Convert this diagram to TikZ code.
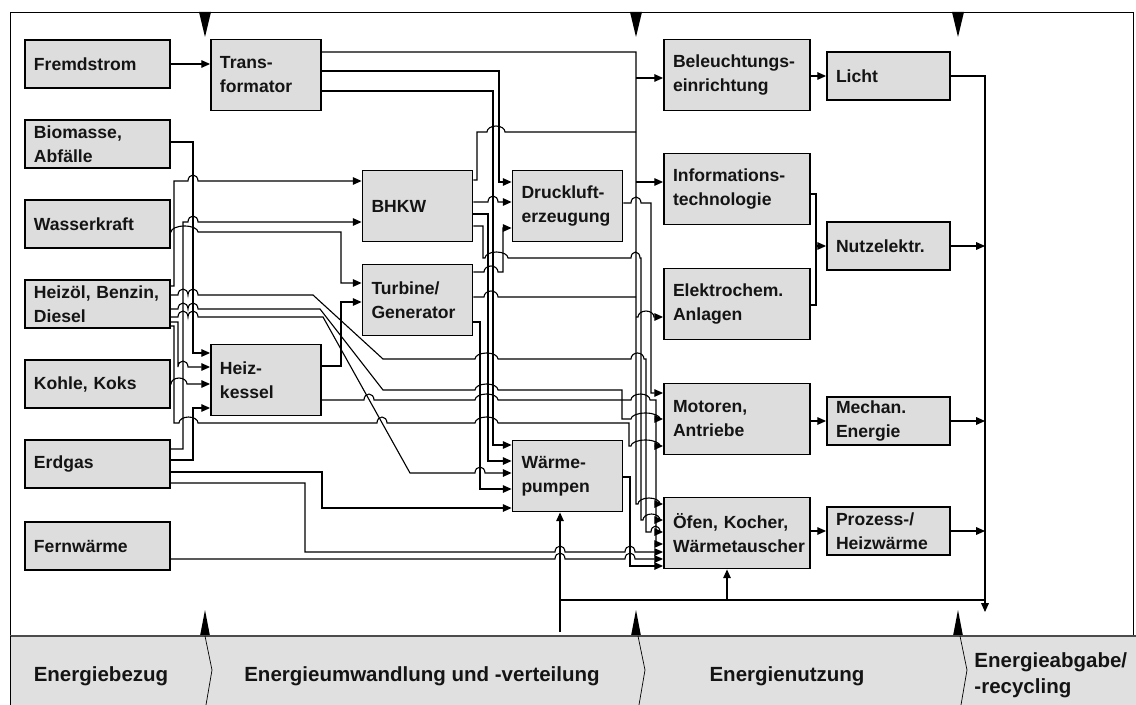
\documentclass[tikz,border=0pt]{standalone}
\usepackage{fontspec}
\setmainfont{Liberation Sans}
\usetikzlibrary{arrows.meta}
\definecolor{boxgray}{RGB}{221,221,221}
\definecolor{bandgray}{RGB}{224,224,224}

\begin{document}
\begin{tikzpicture}[x=0.03cm,y=-0.03cm,line width=0.95pt,
    >={Triangle[length=7.5pt,width=6.5pt]},
    hop/.style={insert path={arc[start angle=180,end angle=0,x radius=#1*0.03cm,y radius=0.18cm]}},
    hop/.default=5]
\useasboundingbox (0,0) rectangle (1136,705);
\fill[white] (0,0) rectangle (1136,705);
\draw[line width=0.6pt] (10,12) rectangle (1133,636);

\begin{scope}[every node/.style={draw,line width=1.6pt,fill=boxgray,align=left,
        inner xsep=0.27cm,inner ysep=0pt,text=black!92,
        font=\bfseries\fontsize{15}{20.5}\selectfont},
    srcbox/.style={minimum width=4.35cm,text width=3.81cm,minimum height=1.44cm},
    convbox/.style={minimum width=3.3cm,text width=2.76cm,minimum height=2.13cm},
    usebox/.style={minimum width=4.38cm,text width=3.84cm,minimum height=2.13cm},
    endbox/.style={minimum width=3.69cm,text width=3.15cm,minimum height=1.44cm}]
    \node[srcbox] (fremd) at (97.5,64) {Fremdstrom};
    \node[srcbox] (bio) at (97.5,144) {Biomasse,\\Abfälle};
    \node[srcbox] (wasser) at (97.5,224) {Wasserkraft};
    \node[srcbox] (heizoel) at (97.5,304) {Heizöl, Benzin,\\Diesel};
    \node[srcbox] (kohle) at (97.5,384) {Kohle, Koks};
    \node[srcbox] (erdgas) at (97.5,464) {Erdgas};
    \node[srcbox] (fernw) at (97.5,546) {Fernwärme};
    \node[convbox] (trafo) at (266,75) {Trans-\\formator};
    \node[convbox] (kessel) at (266,380) {Heiz-\\kessel};
    \node[convbox] (bhkw) at (417.5,206) {BHKW};
    \node[convbox] (turbine) at (417.5,300) {Turbine/\\Generator};
    \node[convbox] (druck) at (567.5,206) {Druckluft-\\erzeugung};
    \node[convbox] (wpumpe) at (567.5,476) {Wärme-\\pumpen};
    \node[usebox] (beleucht) at (737,75) {Beleuchtungs-\\einrichtung};
    \node[usebox] (infot) at (737,189) {Informations-\\technologie};
    \node[usebox] (echem) at (737,304) {Elektrochem.\\Anlagen};
    \node[usebox] (motor) at (737,419) {Motoren,\\Antriebe};
    \node[usebox] (oefen) at (737,533) {Öfen, Kocher,\\Wärmetauscher};
    \node[endbox] (licht) at (888.5,76) {Licht};
    \node[endbox] (nutz) at (888.5,246) {Nutzelektr.};
    \node[endbox] (mech) at (888.5,421) {Mechan.\\Energie};
    \node[endbox] (proz) at (888.5,531) {Prozess-/\\Heizwärme};
\end{scope}

\coordinate (coll) at (985,612);
\coordinate (nj) at (816,246);
\coordinate (ret) at (560,632);
\coordinate (ofin) at (727,600);

% Energiebezug
\draw[->] (fremd) -- (trafo.west |- fremd);
\draw[->] (heizoel.east |- 0,286) -| (174,181) -- (188,181) [hop] -- (bhkw.west |- 0,181);
\draw[->] (erdgas.east |- 0,449) -| (183,222) -- (188,222) [hop] -- (bhkw.west |- 0,222);
\draw[->] (bio.east |- 0,142) -| (193,353) -- (kessel.west |- 0,353);
\draw[->] (wasser.east |- 0,232) -- (171,232) [hop=13.5] -- (341,232) |- (turbine.west |- 0,283);
\draw (heizoel.east |- 0,295) -- (178,295) [hop] [hop] -- (313,295) -- (383,359)
    -- (475,359) [hop=11.5] -- (631,359) [hop=6.5] -- (646,359) -- (646,532)
    -- (651,532) [hop=4.5];
\draw[->] (660,532) -- (oefen.west |- 0,532);
\draw[->] (heizoel.east |- 0,309) -- (178,309) [hop] [hop] -- (320,309) -- (383,390)
    -- (475,390) [hop=11.5] -- (622,390) -- (622,419) -- (631,419) [hop=14.5]
    -- (motor.west |- 0,419);
\draw[->] (heizoel.east |- 0,317) -- (178,317) [hop] [hop] -- (323,317) -- (410,473)
    -- (475,473) [hop] -- (wpumpe.west |- 0,473);
\draw[->] (heizoel.east |- 0,322) -| (178,367) -- (178,367) [hop] -- (kessel.west |- 0,367);
\draw[->] (heizoel.east |- 0,326) -| (174,423) -- (179,423) [hop=9.5] -- (377,423) [hop]
    -- (475,423) [hop=11.5] -- (629,423) -- (629,446) -- (631,446) [hop=14.5]
    -- (motor.west |- 0,446);
\draw[->] (kohle.east) -- (171,384) [hop=8] -- (kessel.west |- 0,384);
\draw[->] (erdgas.east |- 0,460) -| (193,408) -- (kessel.west |- 0,408);
\draw[->] (erdgas.east |- 0,472) -| (322,508) -- (wpumpe.west |- 0,508);
\draw[->] (erdgas.east |- 0,483) -| (305,552) -- (555,552) [hop] -- (625,552) [hop]
    -- (oefen.west |- 0,552);
\draw[->] (fernw.east |- 0,559) -- (555,559) [hop] -- (625,559) [hop]
    -- (oefen.west |- 0,559);

% Umwandlung und Verteilung
\draw[->] (kessel.east |- 0,366) -| (341,302) -- (turbine.west |- 0,302);
\draw[->] (kessel.east |- 0,400) -- (364,400) [hop] -- (475,400) [hop=11.5]
    -- (631,400) [hop=9.5] -- (656,400) -- (656,544) -- (oefen.west |- 0,544);
\draw[->] (trafo.east |- 0,52) -- (636,52) -- (636,504) -- (638,504) [hop=11]
    -- (oefen.west |- 0,504);
\draw[->] (trafo.east |- 0,71) -| (499,182) -- (druck.west |- 0,182);
\draw[->] (trafo.east |- 0,91) -| (493,445) -- (wpumpe.west |- 0,445);
\draw (bhkw.east |- 0,180) -| (477,132) -- (487,132) [hop=9] -- (636,132);
\draw[->] (bhkw.east |- 0,202) -- (488,202) [hop] -- (druck.west |- 0,202);
\draw[->] (bhkw.east |- 0,214) -| (488,461) -- (wpumpe.west |- 0,461);
\draw (bhkw.east |- 0,226) -| (483,258) -- (485,258) [hop=11.5] -- (631,258) [hop=4.5]
    -- (641,258) -- (641,520) -- (643,520) [hop=8.5];
\draw[->] (660,520) -- (oefen.west |- 0,520);
\draw[->] (turbine.east |- 0,272) -- (484,272) [hop=7] -- (503,272) |- (druck.west |- 0,228);
\draw (turbine.east |- 0,297) -- (484,297) [hop=7] -- (636,297);
\draw[->] (turbine.east |- 0,322) -| (480,489) -- (wpumpe.west |- 0,489);
\draw[->] (druck.east |- 0,203) -- (631,203) [hop] -- (651,203) -- (651,393)
    -- (motor.west |- 0,393);
\draw[->] (wpumpe.east |- 0,477) -| (630,566) -- (oefen.west |- 0,566);

% Energienutzung
\draw[->] (636,78) -- (beleucht.west |- 0,78);
\draw[->] (636,182) -- (infot.west |- 0,182);
\draw[->] (636,317) -- (638,317) [hop=8] -- (echem.west |- 0,317);
\draw[->] (beleucht.east |- licht.west) -- (licht.west);
\draw[->] (motor.east |- mech.west) -- (mech.west);
\draw[->] (oefen.east |- proz.west) -- (proz.west);
\draw (infot.east |- 0,194) -| (nj) |- (echem.east |- 0,305);
\draw[->] (nj) -- (nutz.west);

% Energieabgabe
\draw[->] (licht.east) -| (coll);
\draw[->] (nutz.east) -- (nutz.east -| coll);
\draw[->] (mech.east) -- (mech.east -| coll);
\draw[->] (proz.east) -- (proz.east -| coll);
\draw (coll |- ofin) -- (ret |- ofin);
\draw[->] (ret) -- (wpumpe.south -| ret);
\draw[->] (ofin) -- (oefen.south -| ofin);

% Phasen
\foreach \x in {205,636,958} {
    \fill (\x-6,12) -- (\x+6,12) -- (\x,37) -- cycle;
    \fill (\x-5,636) -- (\x+5,636) -- (\x,610) -- cycle;
}
\fill[bandgray] (10,636) rectangle (1136,705);
\draw[line width=1.6pt,black!70] (10,636) -- (1136,636);
\draw[line width=0.6pt] (10,636) -- (10,705);
\foreach \x in {205,638,960}
    \draw[line width=0.6pt] (\x,636) -- (\x+7,670) -- (\x+1,705);
\begin{scope}[every node/.style={font=\bfseries\fontsize{17.5}{22}\selectfont,text=black!92}]
    \node (ph1) at (101,676) {Energiebezug};
    \node (ph2) at (422,676) {Energieumwandlung und -verteilung};
    \node (ph3) at (787,676) {Energienutzung};
    \node[anchor=west,align=left] (ph4) at (970,675) {Energieabgabe/\\-recycling};
\end{scope}
\end{tikzpicture}
\end{document}
